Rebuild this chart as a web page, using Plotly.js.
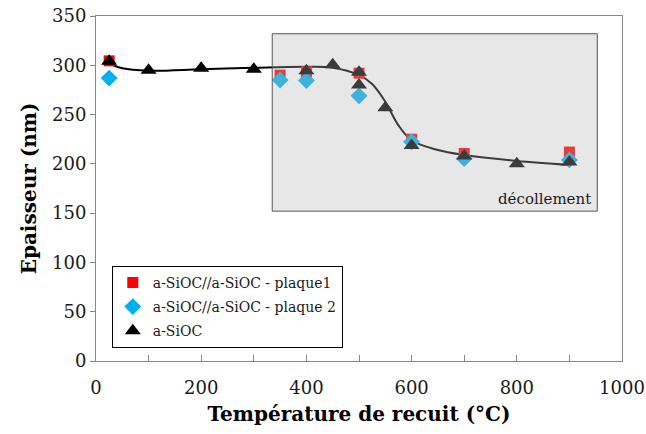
<!DOCTYPE html>
<html>
<head>
<meta charset="utf-8">
<script src="https://cdn.plot.ly/plotly-3.0.1.min.js"></script>
<style>html,body{margin:0;padding:0;background:#fff;}#chart{width:646px;height:434px;}</style>
</head>
<body>
<div id="chart"></div>
<script>
// Plaque 1 (red squares)
const p1X = [25, 350, 400, 500, 600, 700, 900];
const p1Y = [304.5, 290, 293.5, 292, 225, 210.5, 212];
// Plaque 2 (blue diamonds)
const p2X = [25, 350, 400, 500, 600, 700, 900];
const p2Y = [287, 285, 284.5, 269, 222.5, 205.5, 204];
// a-SiOC (black triangles)
const sX = [25, 100, 200, 300, 400, 450, 500, 500, 550, 600, 700, 800, 900];
const sY = [304, 295, 297, 296, 294.5, 300.5, 293, 280, 257, 218.5, 208, 200, 202];
// Smooth trend curve
const curveX = [25, 50, 100, 200, 300, 400, 450, 500, 525, 550, 575, 600, 650, 700, 800, 900];
const curveY = [302, 297, 294.5, 296, 297.5, 298.5, 297.5, 290, 281, 263, 239, 224, 214, 209, 203, 199];
// Axis ticks
const xTickVals = [0, 100, 200, 300, 400, 500, 600, 700, 800, 900, 1000];
const xTickText = ['0', '', '200', '', '400', '', '600', '', '800', '', '1000'];
const seriesNames = ['a-SiOC//a-SiOC - plaque1', 'a-SiOC//a-SiOC - plaque 2', 'a-SiOC'];

const serif = 'DejaVu Serif, serif';

const traces = [
  {x: curveX, y: curveY, mode: 'lines', line: {shape: 'spline', color: '#000', width: 2}, showlegend: false, hoverinfo: 'skip'},
  {x: p1X, y: p1Y, mode: 'markers', name: seriesNames[0], legendgroup: 'g1', marker: {symbol: 'square', color: '#ff0000', size: 11}},
  {x: p2X, y: p2Y, mode: 'markers', name: seriesNames[1], legendgroup: 'g2', marker: {symbol: 'diamond', color: '#00b0f0', size: 13}},
  {x: sX, y: sY, mode: 'markers', name: seriesNames[2], legendgroup: 'g3', marker: {symbol: 'triangle-up', color: '#000', size: 14}}
];

const layout = {
  width: 646, height: 434,
  margin: {l: 95.5, r: 24, t: 16, b: 73, pad: 0},
  paper_bgcolor: '#fff', plot_bgcolor: '#fff',
  font: {family: serif, color: '#1a1a1a'},
  xaxis: {
    range: [0, 1000], tickmode: 'array', tickvals: xTickVals, ticktext: xTickText,
    ticks: 'inside', ticklen: 6, tickcolor: '#888', showgrid: false, zeroline: false,
    showline: true, linecolor: '#888', linewidth: 1, mirror: true,
    tickfont: {family: serif, size: 18, color: '#1a1a1a'},
    ticklabelstandoff: 10,
    title: {text: 'Température de recuit (°C)', font: {family: serif, size: 20, weight: 'bold', color: '#000'}, standoff: 10}
  },
  yaxis: {
    range: [0, 350], dtick: 50, ticks: 'outside', ticklen: 5, tickcolor: '#888',
    showgrid: false, zeroline: false, showline: true, linecolor: '#888', linewidth: 1, mirror: true,
    tickfont: {family: serif, size: 18, color: '#1a1a1a'},
    title: {text: 'Epaisseur (nm)', font: {family: serif, size: 20, weight: 'bold', color: '#000'}, standoff: 10}
  },
  shapes: [{
    type: 'rect', xref: 'x', yref: 'y', x0: 335, x1: 953, y0: 152, y1: 332,
    fillcolor: 'rgba(182,182,182,0.33)', line: {color: '#555', width: 1}, layer: 'above'
  }],
  annotations: [{
    xref: 'paper', yref: 'paper', x: 0.944, y: 0.47, xanchor: 'right', yanchor: 'middle',
    text: 'décollement', showarrow: false, font: {family: serif, size: 15, color: '#1a1a1a'}
  }],
  legend: {
    x: 0.03, y: 0.276, xanchor: 'left', yanchor: 'top',
    bgcolor: '#fff', bordercolor: '#000', borderwidth: 1,
    font: {family: serif, size: 14, color: '#1a1a1a'},
    itemwidth: 30, traceorder: 'grouped', tracegroupgap: 3
  },
  showlegend: true
};

Plotly.newPlot('chart', traces, layout, {displayModeBar: false, staticPlot: true});
</script>
</body>
</html>
